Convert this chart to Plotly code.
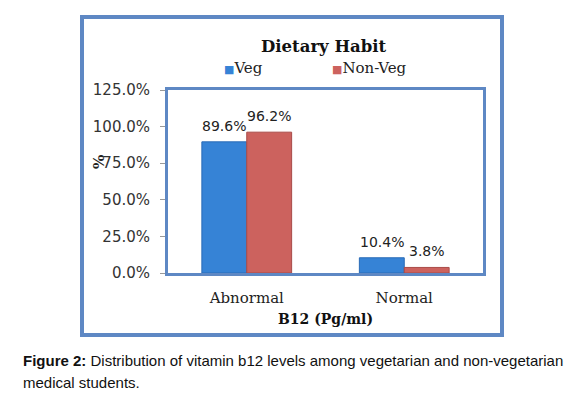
import plotly.graph_objects as go

categories = ["Abnormal", "Normal"]
veg = [89.6, 10.4]
nonveg = [96.2, 3.8]
series_names = ["Veg", "Non-Veg"]
tick_vals = [0, 25, 50, 75, 100, 125]
tick_text = ["0.0%", "25.0%", "50.0%", "75.0%", "100.0%", "125.0%"]

BLUE = "#3683d6"
RED = "#cc625e"
FRAME = "#5e88c4"

OFF = 8  # default page body margin
W, H = 587 - OFF, 395 - OFF
L, R, T, B = 168 - OFF, 483 - OFF, 90 - OFF, 273 - OFF
BARGAP = 0.43

def px(x):
    return (x - OFF - L) / (R - L)

def py(y):
    return (B - (y - OFF)) / (B - T)

fig = go.Figure()
half = (1 - BARGAP) / 4
for k, (name, vals, col, edge) in enumerate([(series_names[0], veg, BLUE, "#2a6bb6"),
                                             (series_names[1], nonveg, RED, "#a94b48")]):
    fig.add_trace(go.Bar(
        x=categories, y=vals, name=name,
        marker=dict(color=col, line=dict(color=edge, width=1)),
        showlegend=False,
    ))
    for i, v in enumerate(vals):
        fig.add_annotation(
            x=i + (-half if k == 0 else half), y=v, xref="x", yref="y",
            text=f"{v:.1f}%", showarrow=False, yanchor="bottom", yshift=6,
            font=dict(family="DejaVu Sans", size=14, color="#222"),
        )

fig.update_layout(
    width=W, height=H,
    margin=dict(l=L, r=W - R, t=T, b=H - B),
    paper_bgcolor="white", plot_bgcolor="white",
    barmode="group", bargap=BARGAP, bargroupgap=0,
    xaxis=dict(
        showline=True, linecolor=FRAME, linewidth=3, mirror=True,
        ticks="", showgrid=False,
        tickfont=dict(family="DejaVu Serif", size=15, color="#222"),
        ticklabelstandoff=9,
    ),
    yaxis=dict(
        range=[0, 125], tickvals=tick_vals, ticktext=tick_text,
        showline=True, linecolor=FRAME, linewidth=3, mirror=True,
        ticks="outside", ticklen=5, tickcolor="#999", showgrid=False,
        tickfont=dict(family="DejaVu Sans", size=15, color="#333"),
        ticklabelstandoff=7,
    ),
)

# outer chart frame
fig.add_shape(type="rect", xref="paper", yref="paper",
              x0=px(82), x1=px(502), y0=py(335), y1=py(17),
              line=dict(color=FRAME, width=4), fillcolor="rgba(0,0,0,0)",
              layer="below")

ann = []
ann.append(dict(text="<b>Dietary Habit</b>", x=px(323), y=py(47),
                font=dict(family="DejaVu Serif", size=16.5, color="#111")))
ann.append(dict(text=f"<span style='color:{BLUE};font-size:11px'>■</span>{series_names[0]}",
                x=px(222), y=py(68), xanchor="left",
                font=dict(family="DejaVu Serif", size=15, color="#222")))
ann.append(dict(text=f"<span style='color:{RED};font-size:11px'>■</span>{series_names[1]}",
                x=px(330), y=py(68), xanchor="left",
                font=dict(family="DejaVu Serif", size=15, color="#222")))
ann.append(dict(text="<b>B12 (Pg/ml)</b>", x=px(325), y=py(319),
                font=dict(family="DejaVu Serif", size=14, color="#111")))
ann.append(dict(text="<b>%</b>", x=px(99), y=py(162), textangle=-90,
                font=dict(family="DejaVu Serif", size=15, color="#222")))
ann.append(dict(text="<b>Figure 2:</b> Distribution of vitamin b12 levels among vegetarian and non-vegetarian",
                x=px(21), y=py(360), xanchor="left",
                font=dict(family="Liberation Sans", size=15, color="#111")))
ann.append(dict(text="medical students.",
                x=px(21), y=py(382), xanchor="left",
                font=dict(family="Liberation Sans", size=15, color="#111")))
for a in ann:
    a.update(xref="paper", yref="paper", showarrow=False)
    a.setdefault("xanchor", "center")
    a.setdefault("yanchor", "middle")
for a in ann:
    fig.add_annotation(**a)

fig.write_html("out.html")
